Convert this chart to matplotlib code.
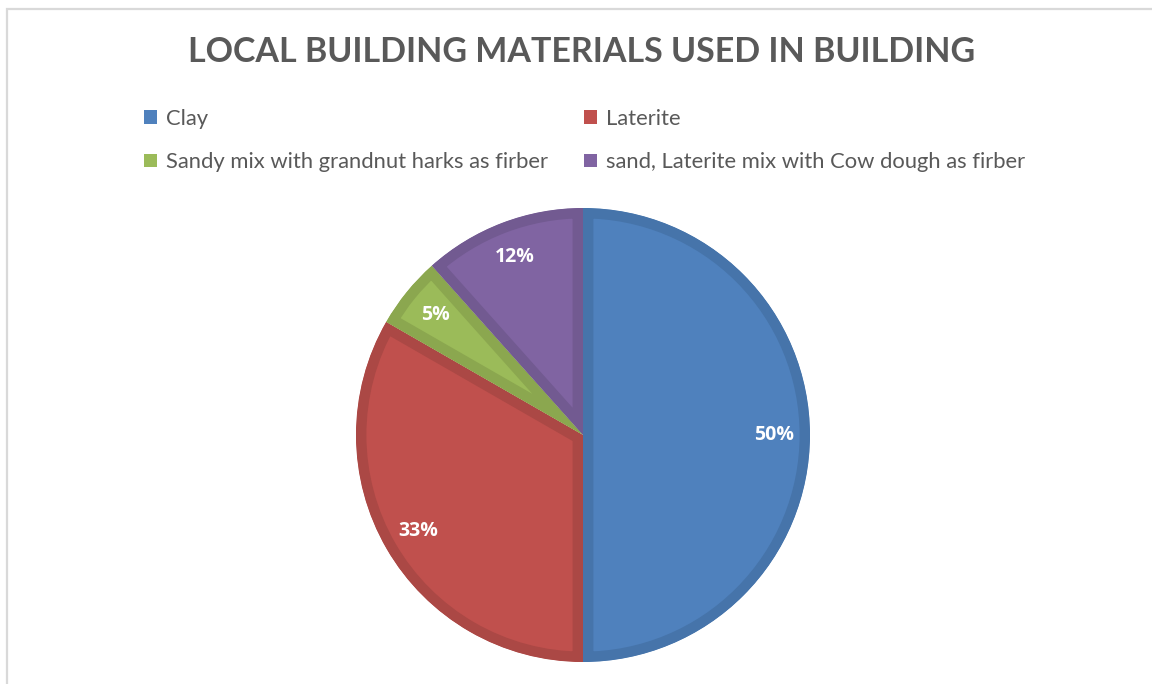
import matplotlib.pyplot as plt
from matplotlib.patches import Patch, Rectangle

plt.rcParams["font.family"] = ["Lato", "DejaVu Sans"]

materials = [
    "Clay",
    "Laterite",
    "Sandy mix with grandnut harks as firber",
    "sand, Laterite mix with Cow dough as firber",
]
shares = [50.0, 33.3, 5.1, 11.6]
colors = ["#4F81BD", "#C0504D", "#9BBB59", "#8064A2"]
edge_colors = ["#4674AA", "#AB4845", "#8BA74F", "#725A91"]

W, H = 1152, 684
fig = plt.figure(figsize=(W / 100, H / 100), dpi=100)

# light grey chart frame (only top/left visible in the crop)
fig.patches.append(Rectangle((7 / W, -0.05), 1.1, 1 - 9 / H + 0.05,
                             transform=fig.transFigure, fill=False,
                             edgecolor="#D9D9D9", linewidth=1.6))

cx, cy, r = 583, 435, 227
ax = fig.add_axes([(cx - r) / W, (H - cy - r) / H, 2 * r / W, 2 * r / H])
wedges, texts, autotexts = ax.pie(
    shares, colors=colors, startangle=90, counterclock=False,
    autopct="%.0f%%", pctdistance=0.84,
    textprops=dict(color="white", fontsize=14, fontweight="bold",
                   family=["Open Sans", "DejaVu Sans"]))

# inner stroke: wide darker edge clipped to the wedge itself
for w, ec in zip(wedges, edge_colors):
    w.set_edgecolor(ec)
    w.set_linewidth(15)
    w.set_clip_on(True)
    w.set_clip_path(w)

ax.set_xlim(-1, 1)
ax.set_ylim(-1, 1)
ax.set_aspect("equal")
ax.axis("off")

fig.text(582 / W, 1 - 52 / H, "LOCAL BUILDING MATERIALS USED IN BUILDING",
         ha="center", va="center", fontsize=24.5, fontweight="bold",
         color="#595959")

handles = [Patch(facecolor=c, edgecolor="none") for c in colors]
order = [0, 2, 1, 3]
fig.legend([handles[i] for i in order], [materials[i] for i in order],
           ncol=2, loc="upper left", bbox_to_anchor=(135 / W, 1 - 100 / H),
           frameon=False, fontsize=15.8, labelcolor="#595959",
           handlelength=0.6, handleheight=0.6, handletextpad=0.4,
           labelspacing=1.07, columnspacing=1.65, borderaxespad=0)

fig.savefig("out.png", dpi=100, facecolor="white")
